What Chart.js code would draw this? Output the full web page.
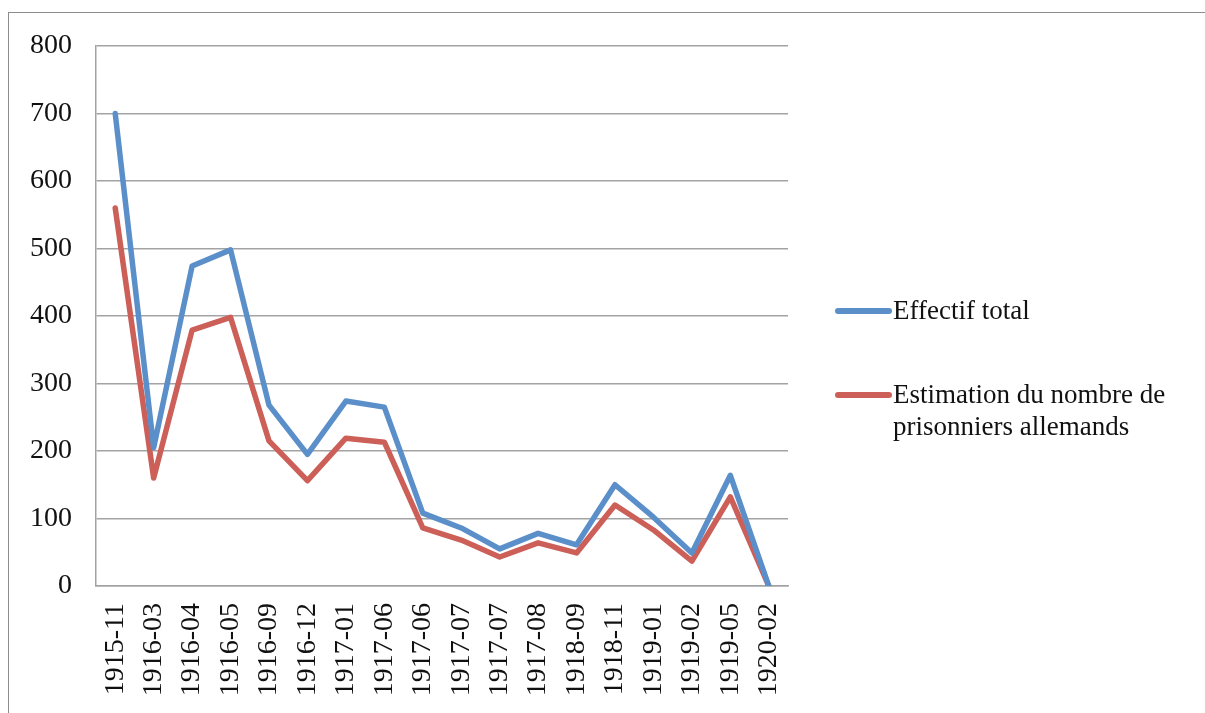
<!DOCTYPE html>
<html>
<head>
<meta charset="utf-8">
<script src="https://cdn.jsdelivr.net/npm/chart.js@4"></script>
<style>
  body { margin: 0; background: #fff; overflow: hidden; }
  #cadre { position: absolute; left: 8px; top: 12px; width: 1250px; height: 760px; border: 1.5px solid #8c8c8c; }
  #wrap { position: absolute; left: 0; top: 0; width: 1205px; height: 713px; }
  .leg { position: absolute; left: 835px; font-family: "Liberation Serif", serif; font-size: 27px; color: #111; line-height: 32px; }
  .leg span.trait { position: absolute; left: 0; top: 14px; width: 57px; height: 6px; border-radius: 3px; }
  .leg div.txt { margin-left: 58px; white-space: nowrap; }
</style>
</head>
<body>
<div id="cadre"></div>
<div id="wrap"><canvas id="graph" width="1205" height="713"></canvas></div>
<div class="leg" style="top:294px"><span class="trait" style="background:#5b8fc9"></span><div class="txt">Effectif total</div></div>
<div class="leg" style="top:378px"><span class="trait" style="background:#cc5f58"></span><div class="txt">Estimation du nombre de<br>prisonniers allemands</div></div>
<script>
const dates = ["1915-11","1916-03","1916-04","1916-05","1916-09","1916-12","1917-01","1917-06","1917-06","1917-07","1917-07","1917-08","1918-09","1918-11","1919-01","1919-02","1919-05","1920-02"];
const effectif = [700, 205, 474, 498, 268, 195, 274, 265, 108, 86, 55, 78, 61, 150, 102, 49, 164, 0];
const prisonniers = [560, 160, 379, 398, 215, 156, 219, 213, 86, 68, 43, 64, 49, 120, 83, 37, 132, 0];
const graduations = [0, 100, 200, 300, 400, 500, 600, 700, 800];

const police = "Liberation Serif";
const gris = "#a3a3a3";

new Chart(document.getElementById("graph").getContext("2d"), {
  type: "line",
  data: {
    labels: dates,
    datasets: [
      { label: "Effectif total", data: effectif, borderColor: "#5b8fc9", borderWidth: 5.5, pointRadius: 0, tension: 0, borderCapStyle: "round", borderJoinStyle: "round" },
      { label: "Estimation du nombre de prisonniers allemands", data: prisonniers, borderColor: "#cc5f58", borderWidth: 5.5, pointRadius: 0, tension: 0, borderCapStyle: "round", borderJoinStyle: "round" }
    ]
  },
  options: {
    responsive: false,
    animation: false,
    layout: { padding: { left: 0, top: 46, right: 417, bottom: 0 } },
    plugins: { legend: { display: false }, tooltip: { enabled: false } },
    scales: {
      x: {
        offset: true,
        grid: { display: false, drawTicks: false },
        border: { display: true, color: gris, width: 1.5 },
        ticks: { minRotation: 90, maxRotation: 90, autoSkip: false, padding: 17, color: "#111", font: { family: police, size: 28 } },
        afterFit: function(s) { s.height = 127; }
      },
      y: {
        min: 0, max: 800,
        afterBuildTicks: function(s) { s.ticks = graduations.map(v => ({ value: v })); },
        grid: { color: gris, lineWidth: 1.5, drawTicks: false },
        border: { display: true, color: gris, width: 1.5 },
        ticks: { padding: 24, color: "#111", font: { family: police, size: 28 } },
        afterFit: function(s) { s.width = 96; }
      }
    }
  }
});
</script>
</body>
</html>
